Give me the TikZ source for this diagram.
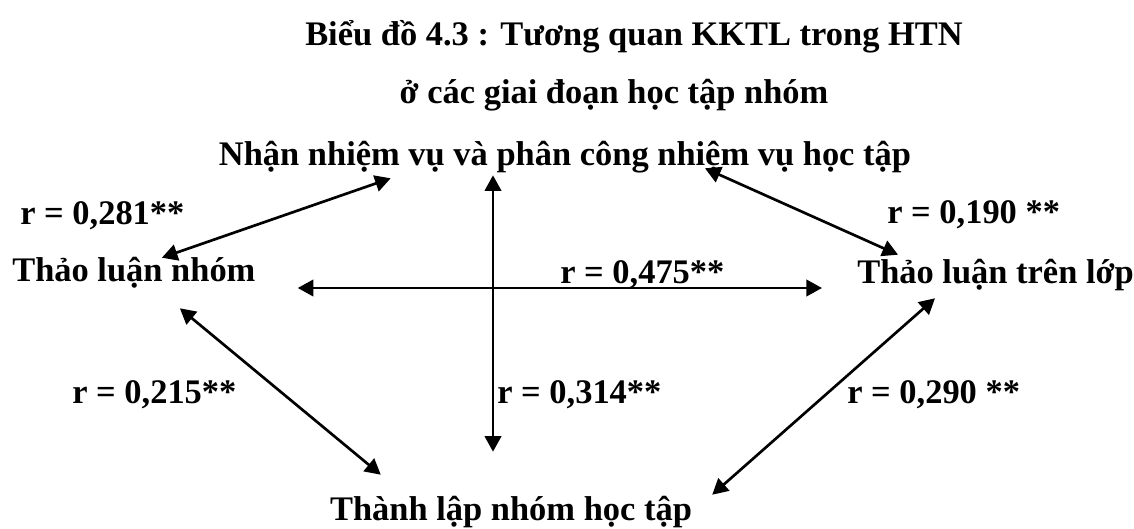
\documentclass[tikz,border=0pt]{standalone}
\usepackage{fontspec}
\setmainfont{Liberation Serif}
\usetikzlibrary{arrows.meta,calc,positioning}
\tikzset{
  lb/.style={font=\fontsize{24.5}{29}\selectfont\bfseries,inner sep=0pt,text height=.6cm,text depth=.175cm},
  stg/.style={lb},
  rv/.style={lb,anchor=base west},
  cor/.style={{Triangle[length=3.9mm,width=4.1mm]}-{Triangle[length=3.9mm,width=4.1mm]},line width=1.9pt,draw=black},
}
\begin{document}
\begin{tikzpicture}[x=0.025cm,y=-0.025cm]
\useasboundingbox (0,0) rectangle (1134,528);
% title, two lines
\node[lb,anchor=base] (ttl) at (634,45) {Biểu đồ 4.3 : Tương quan KKTL trong HTN};
\node[lb,anchor=base] (sub) at (614,103) {ở các giai đoạn học tập nhóm};
% --- the four stages
\node[stg,anchor=base] (nv) at (565,165) {Nhận nhiệm vụ và phân công nhiệm vụ học tập};
\node[stg,anchor=base west] (tln) at (12,281) {Thảo luận nhóm};
\node[stg,anchor=base west] (tlt) at (857,283) {Thảo luận trên lớp};
\node[stg,anchor=base] (tn) at (511,520) {Thành lập nhóm học tập};
% --- correlations
\node[rv] (r281) at (20,224) {r = 0,281**};
\node[rv] (r190) at (887,223) {r = 0,190 **};
\node[rv] (r475) at (560,283) {r = 0,475**};
\node[rv] (r215) at (72,403) {r = 0,215**};
\node[rv] (r314) at (497,403) {r = 0,314**};
\node[rv] (r290) at (847,403) {r = 0,290 **};
% --- links
\draw[cor] ([shift={(28,1)}]tln.north) -- ([shift={(172,6)}]nv.south west);
\draw[cor] ([shift={(140,-4)}]nv.south) -- ([shift={(41,-4)}]tlt.north west);
\draw[cor] ([shift={(42,7)}]tln.base east) -- ([shift={(-35,5)}]tlt.base west);
\draw[cor] ([shift={(-72,3)}]nv.south) -- ([shift={(-18,-44)}]tn.north);
\draw[cor] ([shift={(46,20)}]tln.south) -- ([shift={(51,-21)}]tn.north west);
\draw[cor] ([shift={(78,8)}]tlt.south west) -- ([shift={(20,-1)}]tn.north east);
\end{tikzpicture}
\end{document}
